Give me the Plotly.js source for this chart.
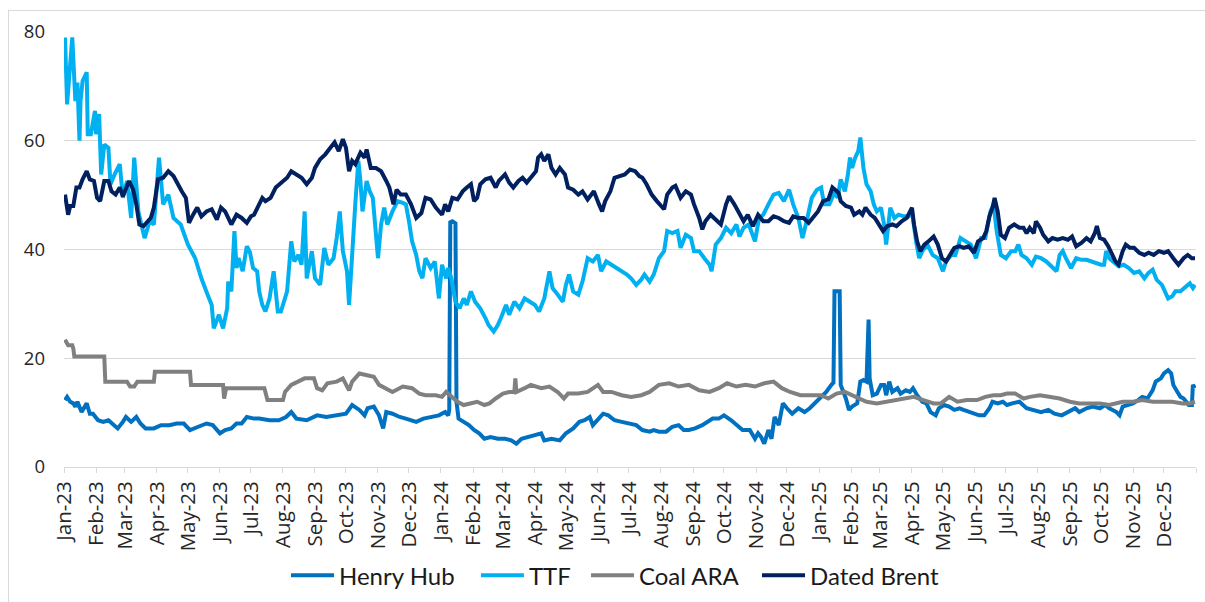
<!DOCTYPE html>
<html>
<head>
<meta charset="utf-8">
<script src="https://cdn.plot.ly/plotly-3.0.1.min.js"></script>
<style>
  html, body { margin: 0; padding: 0; background: #ffffff; }
  #chart { width: 1205px; height: 602px; position: absolute; left: 0; top: 0; }
  #frame { position: absolute; left: 8px; top: 10px; width: 1300px; height: 700px; border: 1px solid #d9d9d9; pointer-events: none; }
</style>
</head>
<body>
<div id="chart"></div>
<div id="frame"></div>
<script>
// ---------- DATA ----------
const seriesNames = ["Henry Hub", "TTF", "Coal ARA", "Dated Brent"];

const hhDates = ["2023-01-02","2023-01-04","2023-01-07","2023-01-10","2023-01-12","2023-01-14","2023-01-18","2023-01-23","2023-01-26","2023-01-29","2023-02-03","2023-02-08","2023-02-13","2023-02-17","2023-02-22","2023-02-27","2023-03-02","2023-03-07","2023-03-12","2023-03-16","2023-03-21","2023-03-29","2023-04-05","2023-04-13","2023-04-20","2023-04-27","2023-05-03","2023-05-11","2023-05-19","2023-05-25","2023-06-01","2023-06-06","2023-06-12","2023-06-17","2023-06-22","2023-06-27","2023-07-04","2023-07-09","2023-07-19","2023-07-28","2023-08-04","2023-08-09","2023-08-14","2023-08-24","2023-09-03","2023-09-12","2023-09-22","2023-10-01","2023-10-07","2023-10-14","2023-10-19","2023-10-22","2023-10-28","2023-11-02","2023-11-06","2023-11-09","2023-11-15","2023-11-22","2023-11-28","2023-12-08","2023-12-15","2023-12-22","2023-12-30",
"2024-01-05","2024-01-08","2024-01-09","2024-01-10","2024-01-12","2024-01-15","2024-01-16","2024-01-17","2024-01-18","2024-01-23","2024-01-28","2024-02-02","2024-02-07","2024-02-12","2024-02-18","2024-02-25","2024-03-03","2024-03-09","2024-03-14","2024-03-19","2024-03-25","2024-04-01","2024-04-07","2024-04-10","2024-04-17","2024-04-25","2024-05-01","2024-05-08","2024-05-14","2024-05-19","2024-05-24","2024-05-27","2024-06-02","2024-06-06","2024-06-11","2024-06-17","2024-06-24","2024-07-01","2024-07-08","2024-07-14","2024-07-21","2024-07-25","2024-07-30","2024-08-06","2024-08-12","2024-08-18","2024-08-23","2024-08-28","2024-09-03","2024-09-10","2024-09-15","2024-09-20","2024-09-26","2024-10-01","2024-10-08","2024-10-13","2024-10-19","2024-10-26","2024-10-31","2024-11-03","2024-11-06","2024-11-09","2024-11-13","2024-11-16","2024-11-19","2024-11-23","2024-11-27","2024-12-01","2024-12-06","2024-12-12","2024-12-18","2024-12-23","2024-12-28",
"2025-01-02","2025-01-08","2025-01-13","2025-01-15","2025-01-16","2025-01-21","2025-01-22","2025-01-27","2025-01-30","2025-02-02","2025-02-07","2025-02-10","2025-02-13","2025-02-16","2025-02-18","2025-02-19","2025-02-22","2025-02-26","2025-03-02","2025-03-05","2025-03-07","2025-03-10","2025-03-13","2025-03-18","2025-03-21","2025-03-26","2025-03-30","2025-04-02","2025-04-06","2025-04-11","2025-04-15","2025-04-19","2025-04-24","2025-04-27","2025-05-02","2025-05-07","2025-05-12","2025-05-17","2025-05-21","2025-05-26","2025-05-31","2025-06-05","2025-06-10","2025-06-15","2025-06-18","2025-06-23","2025-06-28","2025-07-02","2025-07-07","2025-07-14","2025-07-21","2025-07-28","2025-08-04","2025-08-11","2025-08-17","2025-08-24","2025-08-30","2025-09-06","2025-09-10","2025-09-17","2025-09-23","2025-09-30","2025-10-05","2025-10-09","2025-10-16","2025-10-19","2025-10-22","2025-10-27","2025-11-01","2025-11-06","2025-11-10","2025-11-15","2025-11-20","2025-11-23","2025-11-28","2025-12-01","2025-12-05","2025-12-08","2025-12-10","2025-12-14","2025-12-17","2025-12-20","2025-12-25","2025-12-28","2025-12-29","2025-12-31"];
const hhValues = [12.3,12.9,12.0,11.7,11.1,12.0,10.1,11.7,9.8,9.8,8.6,8.3,8.6,8.0,7.1,8.3,9.2,8.3,9.2,8.0,7.1,7.1,7.7,7.7,8.0,8.0,6.8,7.4,8.0,7.7,6.2,6.8,7.1,8.0,8.0,9.2,8.9,8.9,8.6,8.6,9.2,10.1,8.9,8.6,9.5,9.2,9.5,9.8,11.4,10.5,9.5,10.8,11.1,9.5,7.1,10.1,9.8,9.2,8.9,8.3,8.9,9.2,9.5,
10.1,9.5,10.5,45.0,45.2,44.8,12.0,10.1,8.9,8.3,7.7,6.8,6.2,5.2,5.5,5.2,5.2,4.9,4.3,5.2,5.5,5.8,6.2,4.9,5.2,4.9,6.2,7.1,8.3,8.6,9.2,7.7,8.9,9.8,9.5,8.6,8.3,8.0,7.7,6.8,6.5,6.8,6.5,6.5,7.4,7.7,6.8,6.8,7.1,7.7,8.3,8.9,8.9,9.5,8.6,7.7,6.8,6.8,5.2,6.2,5.5,4.3,6.8,5.2,9.2,7.7,11.7,10.8,9.8,10.8,10.1,10.8,11.7,
12.6,13.8,15.1,15.5,32.3,32.3,15.1,12.6,10.5,11.1,11.7,15.7,16.0,15.7,27.1,16.3,13.2,13.5,15.1,15.1,13.2,15.7,13.8,14.5,13.5,14.1,13.8,14.5,13.2,12.0,11.7,10.1,9.5,10.8,11.4,11.1,10.5,10.8,10.5,10.1,9.8,9.5,9.5,10.8,12.0,11.7,12.0,11.4,11.7,12.0,10.8,10.5,10.1,10.5,9.8,9.5,10.1,10.8,10.1,10.8,11.1,10.8,11.4,10.8,10.1,9.5,11.1,11.4,11.7,12.3,12.9,12.6,14.1,15.7,16.3,17.2,17.8,17.2,15.1,13.8,12.9,12.6,11.4,11.4,15.1,14.5];

const ttfDates = ["2023-01-02","2023-01-04","2023-01-09","2023-01-11","2023-01-12","2023-01-14","2023-01-16","2023-01-17","2023-01-19","2023-01-23","2023-01-24","2023-01-27","2023-01-31","2023-02-01","2023-02-04","2023-02-06","2023-02-09","2023-02-13","2023-02-15","2023-02-19","2023-02-24","2023-02-27","2023-03-03","2023-03-07","2023-03-10","2023-03-14","2023-03-20","2023-03-25","2023-03-29","2023-04-03","2023-04-07","2023-04-12","2023-04-17","2023-04-24","2023-05-01","2023-05-08","2023-05-14","2023-05-20","2023-05-24","2023-05-26","2023-05-31","2023-06-04","2023-06-08","2023-06-09","2023-06-12","2023-06-15","2023-06-17","2023-06-19","2023-06-23","2023-06-27","2023-06-30","2023-07-03","2023-07-07","2023-07-09","2023-07-12","2023-07-15","2023-07-19","2023-07-23","2023-07-27","2023-07-30","2023-08-05","2023-08-09","2023-08-12","2023-08-16","2023-08-19","2023-08-22","2023-08-24","2023-08-29","2023-09-01","2023-09-06","2023-09-10","2023-09-14","2023-09-19","2023-09-22","2023-09-25","2023-09-28","2023-10-02","2023-10-04","2023-10-07","2023-10-10","2023-10-13","2023-10-15","2023-10-17","2023-10-21","2023-10-24","2023-10-27","2023-11-01","2023-11-04","2023-11-07","2023-11-10","2023-11-15","2023-11-20","2023-11-25","2023-11-28","2023-12-01","2023-12-04","2023-12-08","2023-12-11","2023-12-14","2023-12-17","2023-12-22","2023-12-26","2023-12-30",
"2024-01-02","2024-01-06","2024-01-08","2024-01-11","2024-01-15","2024-01-19","2024-01-23","2024-01-26","2024-01-30","2024-02-03","2024-02-08","2024-02-13","2024-02-16","2024-02-21","2024-02-25","2024-02-28","2024-03-04","2024-03-07","2024-03-12","2024-03-17","2024-03-22","2024-03-27","2024-04-01","2024-04-05","2024-04-10","2024-04-15","2024-04-18","2024-04-23","2024-04-28","2024-05-01","2024-05-04","2024-05-08","2024-05-13","2024-05-17","2024-05-22","2024-05-27","2024-06-01","2024-06-04","2024-06-09","2024-06-14","2024-06-19","2024-06-24","2024-06-29","2024-07-03","2024-07-08","2024-07-13","2024-07-16","2024-07-21","2024-07-25","2024-07-30","2024-08-04","2024-08-07","2024-08-12","2024-08-17","2024-08-20","2024-08-25","2024-08-30","2024-09-02","2024-09-07","2024-09-12","2024-09-17","2024-09-19","2024-09-23","2024-09-28","2024-10-03","2024-10-08","2024-10-13","2024-10-16","2024-10-20","2024-10-25","2024-10-31","2024-11-04","2024-11-08","2024-11-13","2024-11-18","2024-11-23","2024-11-28","2024-12-03","2024-12-07","2024-12-12","2024-12-16","2024-12-20","2024-12-25","2024-12-30",
"2025-01-03","2025-01-06","2025-01-11","2025-01-16","2025-01-19","2025-01-22","2025-01-26","2025-01-29","2025-01-31","2025-02-02","2025-02-05","2025-02-08","2025-02-10","2025-02-13","2025-02-16","2025-02-20","2025-02-23","2025-02-26","2025-03-02","2025-03-05","2025-03-07","2025-03-11","2025-03-15","2025-03-19","2025-03-24","2025-03-29","2025-04-01","2025-04-05","2025-04-08","2025-04-11","2025-04-16","2025-04-21","2025-04-26","2025-05-01","2025-05-04","2025-05-09","2025-05-13","2025-05-18","2025-05-23","2025-05-28","2025-06-02","2025-06-07","2025-06-11","2025-06-16","2025-06-19","2025-06-22","2025-06-26","2025-07-01","2025-07-06","2025-07-10","2025-07-13","2025-07-16","2025-07-21","2025-07-26","2025-07-30","2025-08-04","2025-08-09","2025-08-14","2025-08-19","2025-08-22","2025-08-25","2025-08-28","2025-09-02","2025-09-07","2025-09-12","2025-09-17","2025-09-21","2025-09-26","2025-10-01","2025-10-04","2025-10-06","2025-10-09","2025-10-14","2025-10-18","2025-10-23","2025-10-28","2025-11-02","2025-11-07","2025-11-12","2025-11-16","2025-11-20","2025-11-24","2025-11-29","2025-12-02","2025-12-05","2025-12-09","2025-12-12","2025-12-17","2025-12-22","2025-12-26","2025-12-29","2025-12-31"];
const ttfValues = [79.0,66.7,79.0,70.4,67.3,70.7,60.0,67.3,71.0,72.6,61.2,61.2,65.5,61.2,64.9,53.8,59.3,58.7,52.0,53.8,55.7,49.5,52.6,45.8,56.9,47.0,42.1,45.2,44.6,56.9,48.3,50.1,45.8,44.6,40.9,38.4,34.7,31.7,29.8,25.5,28.0,25.5,29.2,34.1,32.3,43.4,36.6,38.4,36.0,40.6,39.5,36.6,36.0,32.3,29.8,28.6,31.0,36.0,28.6,28.6,32.3,41.5,37.8,39.0,37.2,47.0,34.7,39.7,34.7,33.5,40.3,37.2,38.4,42.1,47.0,39.7,36.0,29.8,39.7,48.3,56.3,52.6,47.0,52.6,50.7,49.5,38.4,44.6,47.7,44.6,47.0,48.9,48.6,48.3,45.2,41.5,39.0,36.0,34.7,38.4,36.6,37.8,31.0,
37.2,34.7,36.6,34.7,30.4,29.2,31.0,29.8,32.3,30.4,29.2,27.4,26.1,24.9,26.1,27.4,29.8,28.0,30.4,29.2,31.0,30.4,29.8,28.6,31.0,36.0,32.9,31.7,30.4,33.5,35.4,32.3,31.7,34.1,38.4,37.8,39.0,36.0,37.8,37.2,36.6,36.0,35.4,34.7,33.5,34.5,35.4,34.1,35.4,38.4,39.7,43.4,43.0,43.4,40.3,42.7,42.1,39.7,39.7,38.4,37.2,36.0,40.9,42.1,44.0,43.0,44.6,42.4,44.0,44.6,41.5,45.8,46.4,48.3,50.1,50.4,48.9,51.0,48.3,45.8,42.1,45.2,49.5,51.0,
51.4,48.3,48.3,50.5,49.5,52.9,50.7,53.8,56.9,55.0,56.9,58.1,60.6,55.0,52.0,50.7,48.3,47.0,47.7,44.6,40.9,47.7,45.8,46.4,46.1,46.1,47.0,41.5,38.4,39.7,40.9,39.0,38.4,36.0,37.8,39.0,39.0,42.1,41.5,40.9,38.4,42.1,42.1,47.0,48.3,43.4,39.0,38.4,39.7,39.7,40.9,39.0,38.4,37.2,38.7,38.4,37.8,36.9,36.0,39.0,39.7,38.4,36.6,38.4,38.1,38.1,37.8,37.5,37.2,37.2,39.7,38.4,37.5,36.9,37.2,36.6,35.7,36.0,34.7,35.7,36.3,34.4,33.5,32.3,31.0,31.4,32.3,32.3,33.2,33.8,32.9,33.5];

const coalDates = ["2023-01-02","2023-01-05","2023-01-09","2023-01-10","2023-01-11","2023-02-09","2023-02-10","2023-03-03","2023-03-06","2023-03-10","2023-03-13","2023-03-29","2023-03-30","2023-05-03","2023-05-04","2023-06-04","2023-06-05","2023-06-07","2023-07-14","2023-07-17","2023-08-01","2023-08-03","2023-08-09","2023-08-22","2023-08-31","2023-09-03","2023-09-08","2023-09-13","2023-09-22","2023-09-28","2023-10-04","2023-10-07","2023-10-14","2023-10-20","2023-10-28","2023-11-02","2023-11-09","2023-11-15","2023-11-25","2023-12-04","2023-12-11","2023-12-17","2023-12-27",
"2024-01-02","2024-01-06","2024-01-11","2024-01-17","2024-01-23","2024-01-30","2024-02-05","2024-02-12","2024-02-17","2024-02-23","2024-03-01","2024-03-07","2024-03-12","2024-03-13","2024-03-14","2024-03-22","2024-03-28","2024-04-07","2024-04-15","2024-04-23","2024-04-29","2024-05-03","2024-05-13","2024-05-22","2024-06-01","2024-06-06","2024-06-14","2024-06-24","2024-07-03","2024-07-13","2024-07-21","2024-07-30","2024-08-09","2024-08-18","2024-08-28","2024-09-07","2024-09-17","2024-09-26","2024-10-04","2024-10-13","2024-10-22","2024-10-31","2024-11-09","2024-11-18","2024-11-26","2024-12-04","2024-12-14","2024-12-23",
"2025-01-03","2025-01-10","2025-01-18","2025-01-26","2025-02-02","2025-02-10","2025-02-16","2025-02-26","2025-03-08","2025-03-18","2025-03-27","2025-04-03","2025-04-12","2025-04-22","2025-04-29","2025-05-07","2025-05-15","2025-05-24","2025-06-03","2025-06-11","2025-06-19","2025-06-26","2025-07-02","2025-07-10","2025-07-18","2025-07-24","2025-08-03","2025-08-12","2025-08-22","2025-09-01","2025-09-10","2025-09-20","2025-09-30","2025-10-09","2025-10-15","2025-10-22","2025-11-01","2025-11-10","2025-11-20","2025-11-29","2025-12-09","2025-12-19","2025-12-26","2025-12-31"];
const coalValues = [23.4,22.4,22.4,21.8,20.3,20.3,15.7,15.7,14.8,14.8,15.7,15.7,17.5,17.5,15.1,15.1,12.6,14.5,14.5,12.3,12.3,13.8,15.1,16.3,16.3,14.5,14.1,15.4,15.7,16.3,14.1,15.7,17.2,16.9,16.6,15.1,14.5,13.8,14.8,14.5,13.5,13.2,13.2,
12.9,13.8,12.9,12.0,11.4,11.7,12.0,11.4,11.7,12.6,13.5,13.8,13.8,16.3,13.8,14.5,15.1,14.5,14.8,13.8,12.6,13.5,13.5,13.8,15.1,13.8,13.8,13.2,12.9,13.2,13.8,15.1,15.4,14.8,15.1,14.1,13.8,14.5,15.4,14.8,15.1,14.8,15.4,15.7,14.5,13.8,13.2,13.2,
13.2,12.6,13.5,13.8,13.2,12.6,12.0,11.7,12.0,12.3,12.6,12.9,12.3,11.7,11.7,12.9,12.0,12.3,12.3,12.9,13.2,13.2,13.5,13.5,12.6,12.9,13.2,12.9,12.6,12.0,11.7,11.7,11.7,11.4,11.7,12.0,12.0,12.3,12.0,12.0,12.0,11.7,11.7,12.0];

const brentDates = ["2023-01-02","2023-01-05","2023-01-07","2023-01-10","2023-01-13","2023-01-16","2023-01-19","2023-01-23","2023-01-26","2023-01-30","2023-02-02","2023-02-05","2023-02-09","2023-02-13","2023-02-16","2023-02-20","2023-02-24","2023-02-27","2023-03-05","2023-03-09","2023-03-12","2023-03-15","2023-03-19","2023-03-23","2023-03-26","2023-03-29","2023-04-02","2023-04-07","2023-04-12","2023-04-17","2023-04-21","2023-04-25","2023-04-29","2023-05-02","2023-05-06","2023-05-10","2023-05-14","2023-05-19","2023-05-24","2023-05-29","2023-06-02","2023-06-06","2023-06-09","2023-06-12","2023-06-17","2023-06-22","2023-06-27","2023-07-01","2023-07-04","2023-07-09","2023-07-12","2023-07-15","2023-07-20","2023-07-25","2023-07-30","2023-08-05","2023-08-09","2023-08-14","2023-08-19","2023-08-24","2023-08-29","2023-09-01","2023-09-06","2023-09-11","2023-09-15","2023-09-20","2023-09-24","2023-09-28","2023-10-01","2023-10-04","2023-10-07","2023-10-10","2023-10-15","2023-10-19","2023-10-21","2023-10-25","2023-10-30","2023-11-04","2023-11-09","2023-11-12","2023-11-16","2023-11-19","2023-11-23","2023-11-28","2023-12-03","2023-12-08","2023-12-13","2023-12-17","2023-12-22","2023-12-27",
"2024-01-02","2024-01-05","2024-01-08","2024-01-12","2024-01-17","2024-01-22","2024-01-26","2024-01-30","2024-02-02","2024-02-05","2024-02-08","2024-02-13","2024-02-18","2024-02-23","2024-02-26","2024-03-03","2024-03-07","2024-03-11","2024-03-16","2024-03-20","2024-03-24","2024-03-29","2024-04-02","2024-04-04","2024-04-07","2024-04-10","2024-04-14","2024-04-17","2024-04-21","2024-04-25","2024-04-30","2024-05-03","2024-05-08","2024-05-13","2024-05-17","2024-05-22","2024-05-28","2024-06-02","2024-06-05","2024-06-08","2024-06-13","2024-06-17","2024-06-22","2024-06-27","2024-07-02","2024-07-07","2024-07-11","2024-07-14","2024-07-18","2024-07-23","2024-07-28","2024-08-04","2024-08-07","2024-08-12","2024-08-15","2024-08-20","2024-08-25","2024-08-30","2024-09-02","2024-09-07","2024-09-10","2024-09-13","2024-09-18","2024-09-23","2024-09-28","2024-10-03","2024-10-06","2024-10-11","2024-10-16","2024-10-20","2024-10-24","2024-10-29","2024-11-03","2024-11-08","2024-11-13","2024-11-18","2024-11-23","2024-11-28","2024-12-03","2024-12-07","2024-12-12","2024-12-17","2024-12-22","2024-12-27","2024-12-31",
"2025-01-05","2025-01-10","2025-01-14","2025-01-18","2025-01-20","2025-01-22","2025-01-27","2025-02-01","2025-02-04","2025-02-09","2025-02-12","2025-02-15","2025-02-20","2025-02-24","2025-02-28","2025-03-04","2025-03-08","2025-03-13","2025-03-17","2025-03-22","2025-03-27","2025-04-01","2025-04-03","2025-04-06","2025-04-09","2025-04-13","2025-04-17","2025-04-22","2025-04-26","2025-04-30","2025-05-04","2025-05-08","2025-05-12","2025-05-17","2025-05-21","2025-05-26","2025-05-31","2025-06-04","2025-06-09","2025-06-12","2025-06-15","2025-06-18","2025-06-20","2025-06-23","2025-06-26","2025-06-30","2025-07-04","2025-07-09","2025-07-14","2025-07-18","2025-07-21","2025-07-24","2025-07-28","2025-07-30","2025-08-03","2025-08-06","2025-08-11","2025-08-15","2025-08-20","2025-08-25","2025-08-30","2025-09-03","2025-09-07","2025-09-12","2025-09-17","2025-09-21","2025-09-25","2025-09-27","2025-09-30","2025-10-04","2025-10-08","2025-10-12","2025-10-15","2025-10-18","2025-10-22","2025-10-25","2025-10-29","2025-11-02","2025-11-07","2025-11-12","2025-11-16","2025-11-21","2025-11-26","2025-12-01","2025-12-05","2025-12-10","2025-12-15","2025-12-20","2025-12-24","2025-12-28","2025-12-31"];
const brentValues = [50.1,46.4,48.0,48.0,51.4,51.4,52.9,54.4,52.9,52.6,49.5,48.9,52.6,52.6,50.7,50.1,51.4,49.8,52.6,51.0,48.3,44.6,44.3,45.2,45.8,47.7,52.9,53.2,54.4,53.5,52.0,50.7,49.5,44.9,46.4,47.7,46.1,47.0,47.4,45.5,47.7,47.0,45.8,44.6,46.4,45.8,44.9,46.1,46.4,48.3,49.5,48.9,49.5,51.4,52.3,53.2,54.4,53.8,53.2,52.0,53.2,55.0,56.6,57.5,58.4,59.7,58.1,60.3,58.7,54.4,56.3,55.7,57.8,56.9,58.4,55.0,55.0,54.4,52.6,51.4,48.3,51.0,50.1,50.1,48.3,45.8,46.7,49.5,49.2,47.7,
46.4,48.3,47.0,49.5,49.2,50.7,51.4,52.0,48.9,49.5,52.0,52.9,53.2,51.4,52.6,53.8,52.3,51.4,52.6,53.2,52.3,53.5,54.4,56.9,57.5,56.3,57.5,55.0,53.8,55.0,53.8,51.4,51.0,50.1,50.7,49.2,50.7,48.3,47.0,48.9,50.7,53.2,53.5,53.8,54.7,54.4,53.5,53.2,52.0,50.1,48.9,47.4,50.1,51.4,51.7,49.5,50.7,50.1,48.3,45.8,43.7,45.2,46.4,45.5,44.6,48.3,49.8,48.3,46.4,45.2,46.4,44.3,46.4,45.2,45.2,46.1,45.8,45.2,44.9,46.1,45.8,45.8,44.9,46.1,47.0,
48.9,49.2,51.4,50.6,50.4,48.9,48.0,47.7,46.4,47.0,46.4,47.7,46.4,45.8,44.6,43.4,44.3,44.6,44.3,45.2,45.8,47.7,44.6,41.5,39.7,40.9,41.5,42.4,40.9,38.4,37.8,39.0,40.3,40.6,40.3,40.6,39.4,41.5,42.1,43.4,46.1,47.7,49.5,47.0,42.7,42.1,44.0,44.6,44.0,44.0,43.0,44.0,43.0,45.2,44.0,42.7,41.5,42.1,41.8,42.1,41.8,42.4,40.6,41.2,42.1,41.5,43.0,44.3,42.1,41.8,40.6,39.0,37.8,37.2,39.7,40.9,40.3,40.3,39.4,39.0,39.4,39.0,39.7,39.4,39.7,38.4,37.2,38.4,39.0,38.4,38.4];

const xRange = ["2023-01-01", "2026-01-01"];
const yTicks = [0, 20, 40, 60, 80];

// ---------- CHART ----------
const colors = ["#0070C0", "#00B0F0", "#808080", "#002060"];
const xs = [hhDates, ttfDates, coalDates, brentDates];
const ys = [hhValues, ttfValues, coalValues, brentValues];
const legendIds = ["legend", "legend2", "legend3", "legend4"];
const legendX = [0.1961, 0.3639, 0.4611, 0.6122];

const traces = seriesNames.map((n, i) => ({
  type: "scatter",
  mode: "lines",
  name: n,
  x: xs[i],
  y: ys[i],
  legend: legendIds[i],
  line: { color: colors[i], width: 4, shape: "linear" },
  hoverinfo: "skip"
}));

function legendCfg(x) {
  return {
    orientation: "h",
    x: x,
    xanchor: "left",
    y: -0.25,
    yanchor: "middle",
    font: { family: "Lato, sans-serif", size: 24, color: "#1a1a1a" },
    bgcolor: "rgba(0,0,0,0)",
    borderwidth: 0,
    itemwidth: 43
  };
}

const layout = {
  width: 1205,
  height: 602,
  paper_bgcolor: "#ffffff",
  plot_bgcolor: "#ffffff",
  margin: { l: 64, r: 9, t: 32, b: 135, pad: 0, autoexpand: false },
  font: { family: "Open Sans, sans-serif", size: 18, color: "#262626" },
  showlegend: true,
  legend: legendCfg(legendX[0]),
  legend2: legendCfg(legendX[1]),
  legend3: legendCfg(legendX[2]),
  legend4: legendCfg(legendX[3]),
  xaxis: {
    type: "date",
    range: xRange,
    tick0: "2023-01-01",
    dtick: "M1",
    tickformat: "%b-%y",
    tickangle: -90,
    ticks: "outside",
    ticklen: 5,
    tickwidth: 1,
    tickcolor: "#d9d9d9",
    showline: true,
    linecolor: "#d9d9d9",
    linewidth: 1,
    showgrid: false,
    zeroline: false,
    automargin: false,
    tickfont: { family: "Open Sans, sans-serif", size: 20.5, color: "#262626" },
    fixedrange: true
  },
  yaxis: {
    range: [0, 80],
    tickmode: "array",
    tickvals: yTicks,
    ticktext: yTicks.map(String),
    showgrid: true,
    gridcolor: "#d9d9d9",
    gridwidth: 1,
    zeroline: false,
    showline: false,
    ticks: "",
    automargin: false,
    ticklabelstandoff: 18,
    tickfont: { family: "Open Sans, sans-serif", size: 18.5, color: "#262626" },
    fixedrange: true
  }
};

Plotly.newPlot("chart", traces, layout, { displayModeBar: false, staticPlot: true });
</script>
</body>
</html>
